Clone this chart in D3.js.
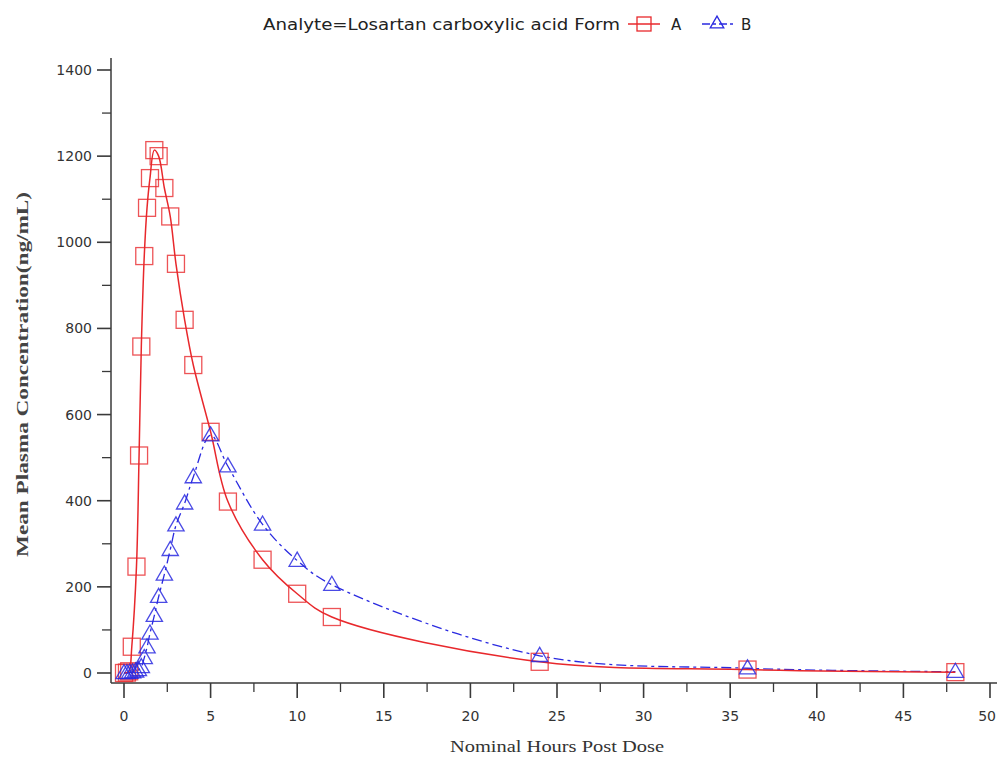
<!DOCTYPE html>
<html>
<head>
<meta charset="utf-8">
<script src="https://cdn.jsdelivr.net/npm/d3@7"></script>
<style>
  body { margin: 0; background: #fff; }
  svg { display: block; }
</style>
</head>
<body>
<script>
// data
var hoursA = [0, 0.17, 0.3, 0.45, 0.72, 0.87, 1, 1.17, 1.33, 1.5, 1.75, 2, 2.33, 2.67, 3, 3.5, 4, 5, 6, 8, 10, 12, 24, 36, 48];
var concA  = [0, 1, 4, 61, 247, 505, 758, 968, 1080, 1149, 1214, 1200, 1126, 1060, 950, 820, 715, 560, 398, 263, 184, 130, 26, 8, 2];

var hoursB = [0, 0.17, 0.33, 0.5, 0.67, 0.83, 1, 1.17, 1.33, 1.5, 1.75, 2, 2.33, 2.67, 3, 3.5, 4, 5, 6, 8, 10, 12, 24, 36, 48];
var concB  = [0, 0, 1, 2, 4, 7, 14, 35, 60, 92, 133, 177, 229, 286, 343, 394, 455, 552, 480, 345, 261, 205, 40, 11, 3];

var xMajor = [0, 5, 10, 15, 20, 25, 30, 35, 40, 45, 50];
var yMajor = [0, 200, 400, 600, 800, 1000, 1200, 1400];

var titleText = "Analyte=Losartan carboxylic acid Form";
var xTitle = "Nominal Hours Post Dose";
var yTitle = "Mean Plasma Concentration(ng/mL)";

var width = 997, height = 759;
var red = "#e8282c", blue = "#2a2ae0";
var axisColor = "#3a3a3a";
var sans = "'DejaVu Sans', sans-serif";
var serif = "'Liberation Serif', serif";

var svg = d3.select("body")
  .append("svg")
  .attr("width", width)
  .attr("height", height);

// scales
var x = d3.scaleLinear().domain([0, 50]).range([124, 990]);
var y = d3.scaleLinear().domain([0, 1400]).range([673, 70]);

var axisLeftX = 111, axisBottomY = 683;

var axisGroup = svg.append("g");

// axis lines
axisGroup.append("line")
  .attr("x1", axisLeftX).attr("x2", axisLeftX)
  .attr("y1", 58).attr("y2", axisBottomY)
  .attr("stroke", axisColor).attr("stroke-width", 1.5);
axisGroup.append("line")
  .attr("x1", axisLeftX).attr("x2", width)
  .attr("y1", axisBottomY).attr("y2", axisBottomY)
  .attr("stroke", axisColor).attr("stroke-width", 1.5);

// y ticks
d3.range(0, 1401, 100).forEach(function(v){
  var major = v % 200 == 0;
  axisGroup.append("line")
    .attr("x1", axisLeftX - (major ? 14 : 9)).attr("x2", axisLeftX)
    .attr("y1", y(v)).attr("y2", y(v))
    .attr("stroke", axisColor).attr("stroke-width", major ? 1.6 : 1.3);
});
axisGroup.selectAll(".ylab")
  .data(yMajor)
  .enter().append("text")
  .attr("x", 92)
  .attr("y", function(d){ return y(d) + 5; })
  .attr("text-anchor", "end")
  .attr("font-family", sans)
  .attr("font-size", 14)
  .attr("fill", "#333")
  .text(function(d){ return d; });

// x ticks
d3.range(0, 50.1, 2.5).forEach(function(t){
  var major = t % 5 == 0;
  axisGroup.append("line")
    .attr("x1", x(t)).attr("x2", x(t))
    .attr("y1", axisBottomY).attr("y2", axisBottomY + (major ? 15 : 9))
    .attr("stroke", axisColor).attr("stroke-width", major ? 1.6 : 1.3);
});
axisGroup.selectAll(".xlab")
  .data(xMajor)
  .enter().append("text")
  .attr("x", function(d){ return d == 50 ? width - 1 : x(d); })
  .attr("y", 721)
  .attr("text-anchor", function(d){ return d == 50 ? "end" : "middle"; })
  .attr("font-family", sans)
  .attr("font-size", 14)
  .attr("fill", "#333")
  .text(function(d){ return d; });

// axis titles
svg.append("text")
  .attr("x", 450).attr("y", 752)
  .attr("font-family", serif)
  .attr("font-size", 16)
  .attr("textLength", 214)
  .attr("lengthAdjust", "spacingAndGlyphs")
  .attr("fill", "#333")
  .text(xTitle);
svg.append("text")
  .attr("transform", "translate(28,557) rotate(-90)")
  .attr("font-family", serif)
  .attr("font-size", 16)
  .attr("font-weight", "bold")
  .attr("textLength", 365)
  .attr("lengthAdjust", "spacingAndGlyphs")
  .attr("fill", "#444")
  .text(yTitle);

// series
var seriesA = hoursA.map(function(h, i){ return {t: h, v: concA[i]}; });
var seriesB = hoursB.map(function(h, i){ return {t: h, v: concB[i]}; });

var line = d3.line()
  .x(function(d){ return x(d.t); })
  .y(function(d){ return y(d.v); })
  .curve(d3.curveCatmullRom.alpha(0.5));

var plotGroup = svg.append("g");

plotGroup.append("path")
  .datum(seriesB)
  .attr("d", line)
  .attr("fill", "none")
  .attr("stroke", blue)
  .attr("stroke-width", 1.3)
  .attr("stroke-dasharray", "10,4,3,4");

plotGroup.append("path")
  .datum(seriesA)
  .attr("d", line)
  .attr("fill", "none")
  .attr("stroke", red)
  .attr("stroke-width", 1.5);

var sq = 17;
plotGroup.selectAll(".sqA")
  .data(seriesA)
  .enter().append("rect")
  .attr("x", function(d){ return x(d.t) - sq / 2; })
  .attr("y", function(d){ return y(d.v) - sq / 2; })
  .attr("width", sq).attr("height", sq)
  .attr("fill", "none")
  .attr("stroke", red)
  .attr("stroke-opacity", 0.8)
  .attr("stroke-width", 1.3);

var tri = d3.symbol().type(d3.symbolTriangle).size(115);
plotGroup.selectAll(".triB")
  .data(seriesB)
  .enter().append("path")
  .attr("transform", function(d){ return "translate(" + x(d.t) + "," + (y(d.v) + 1) + ")"; })
  .attr("d", tri)
  .attr("fill", "none")
  .attr("stroke", blue)
  .attr("stroke-opacity", 0.85)
  .attr("stroke-width", 1.3);

// legend
var legend = svg.append("g");
legend.append("text")
  .attr("x", 263).attr("y", 30)
  .attr("font-family", sans)
  .attr("font-size", 15)
  .attr("textLength", 357)
  .attr("lengthAdjust", "spacingAndGlyphs")
  .attr("fill", "#222")
  .text(titleText);

legend.append("line")
  .attr("x1", 628).attr("x2", 660).attr("y1", 24).attr("y2", 24)
  .attr("stroke", red).attr("stroke-width", 1.5);
legend.append("rect")
  .attr("x", 637).attr("y", 17).attr("width", 14).attr("height", 14)
  .attr("fill", "none").attr("stroke", red).attr("stroke-width", 1.3);
legend.append("text")
  .attr("x", 671).attr("y", 30)
  .attr("font-family", sans)
  .attr("font-size", 15)
  .attr("fill", "#222")
  .text("A");

legend.append("line")
  .attr("x1", 702).attr("x2", 734).attr("y1", 24).attr("y2", 24)
  .attr("stroke", blue).attr("stroke-width", 1.4)
  .attr("stroke-dasharray", "8,3,3,3");
legend.append("path")
  .attr("transform", "translate(717,24)")
  .attr("d", d3.symbol().type(d3.symbolTriangle).size(80))
  .attr("fill", "none").attr("stroke", blue).attr("stroke-width", 1.3);
legend.append("text")
  .attr("x", 741).attr("y", 30)
  .attr("font-family", sans)
  .attr("font-size", 15)
  .attr("fill", "#222")
  .text("B");
</script>
</body>
</html>
